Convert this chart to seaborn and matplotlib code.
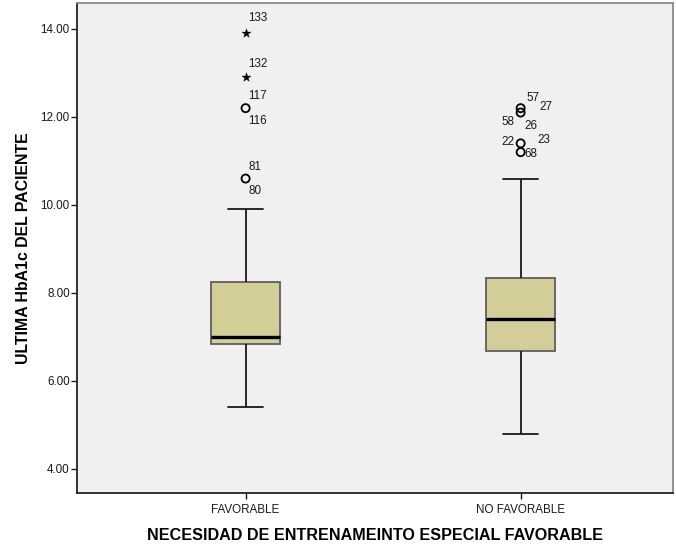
import matplotlib
matplotlib.use("Agg")
import matplotlib.pyplot as plt
import seaborn as sns
import pandas as pd

# Five-number summaries per group (whisker ends, quartiles, median)
groups = ["FAVORABLE", "NO FAVORABLE"]
whisker_low = [5.4, 4.8]
q1 = [6.85, 6.67]
median = [7.0, 7.4]
q3 = [8.25, 8.35]
whisker_high = [9.9, 10.6]

# Points beyond the whiskers, with their case numbers
out_group = ["FAVORABLE", "FAVORABLE", "FAVORABLE", "FAVORABLE",
             "NO FAVORABLE", "NO FAVORABLE", "NO FAVORABLE", "NO FAVORABLE"]
out_value = [13.9, 12.9, 12.2, 10.6, 12.2, 12.1, 11.4, 11.2]
out_kind = ["extreme", "extreme", "outlier", "outlier",
            "outlier", "outlier", "outlier", "outlier"]
out_cases = [["133"], ["132"], ["117", "116"], ["81", "80"],
             ["57", "27"], ["58", "26"], ["22", "23"], ["68"]]

y_ticks = [4.0, 6.0, 8.0, 10.0, 12.0, 14.0]

# Label placement (pixel offsets from each marker, alignment)
label_layout = [
    [(3, 15, "left")],
    [(3, 13, "left")],
    [(3, 12, "left"), (3, -13, "left")],
    [(3, 12, "left"), (3, -12, "left")],
    [(6, 10, "left"), (19, 1, "left")],
    [(-6, -9, "right"), (4, -13, "left")],
    [(-6, 1, "right"), (17, 3, "left")],
    [(4, -2, "left")],
]

summary = pd.DataFrame({
    "grupo": [g for g in groups for _ in range(5)],
    "valor": [v for i in range(len(groups))
              for v in (whisker_low[i], q1[i], median[i], q3[i], whisker_high[i])],
})
flier_df = pd.DataFrame({"grupo": out_group, "valor": out_value, "tipo": out_kind})

sns.set_theme(style="white")
plt.rcParams["font.family"] = ["Liberation Sans", "DejaVu Sans"]

fig = plt.figure(figsize=(6.76, 5.46), dpi=100)
ax = fig.add_axes([0.1135, 0.0976, 0.8825, 0.8969])
ax.set_facecolor("#F0F0F0")

box_color = "#D3CE97"
sns.boxplot(
    data=summary, x="grupo", y="valor", order=groups, ax=ax,
    whis=(0, 100), showfliers=False, width=0.25,
    color=box_color, saturation=1,
    boxprops=dict(facecolor=box_color, edgecolor="#5E5E5E", linewidth=1.3),
    whiskerprops=dict(color="#1A1A1A", linewidth=1.3),
    capprops=dict(color="#1A1A1A", linewidth=1.3),
    medianprops=dict(color="black", linewidth=2.4),
)

pos = {g: i for i, g in enumerate(groups)}
flier_df["x"] = flier_df["grupo"].map(pos)
circles = flier_df[flier_df["tipo"] == "outlier"]
stars = flier_df[flier_df["tipo"] == "extreme"]
sns.scatterplot(data=circles, x="x", y="valor", ax=ax, marker="o",
                s=34, facecolor="none", edgecolor="black", linewidth=1.3,
                legend=False, zorder=5)
sns.scatterplot(data=stars, x="x", y="valor", ax=ax, marker="*",
                s=45, color="black", edgecolor="black", linewidth=0.3,
                legend=False, zorder=5)

for g, v, cases, layout in zip(out_group, out_value, out_cases, label_layout):
    for case, (dx, dy, ha) in zip(cases, layout):
        ax.annotate(case, (pos[g], v), xytext=(dx, dy), textcoords="offset pixels",
                    ha=ha, va="center", fontsize=8.4, color="#1A1A1A")

ax.set_xlim(-0.614, 1.555)
ax.set_ylim(3.46, 14.59)
ax.set_yticks(y_ticks)
ax.set_yticklabels([f"{t:.2f}" for t in y_ticks])

ax.tick_params(axis="both", which="both", direction="out", length=4.5, width=1,
               color="#1A1A1A", labelsize=8.4, labelcolor="#1A1A1A",
               left=True, bottom=True)
ax.tick_params(axis="y", pad=0.5)
ax.tick_params(axis="x", pad=3.5)

for side in ["left", "bottom"]:
    ax.spines[side].set_color("#222222")
    ax.spines[side].set_linewidth(1.3)
for side in ["top", "right"]:
    ax.spines[side].set_color("#8A8A8A")
    ax.spines[side].set_linewidth(1.3)
    ax.spines[side].set_visible(True)

ax.set_xlabel("NECESIDAD DE ENTRENAMEINTO ESPECIAL FAVORABLE",
              fontsize=11.6, fontweight="bold", labelpad=9, color="black")
ax.set_ylabel("ULTIMA HbA1c DEL PACIENTE",
              fontsize=11.4, fontweight="bold", labelpad=7, color="black")

fig.savefig("out.png", dpi=100)
